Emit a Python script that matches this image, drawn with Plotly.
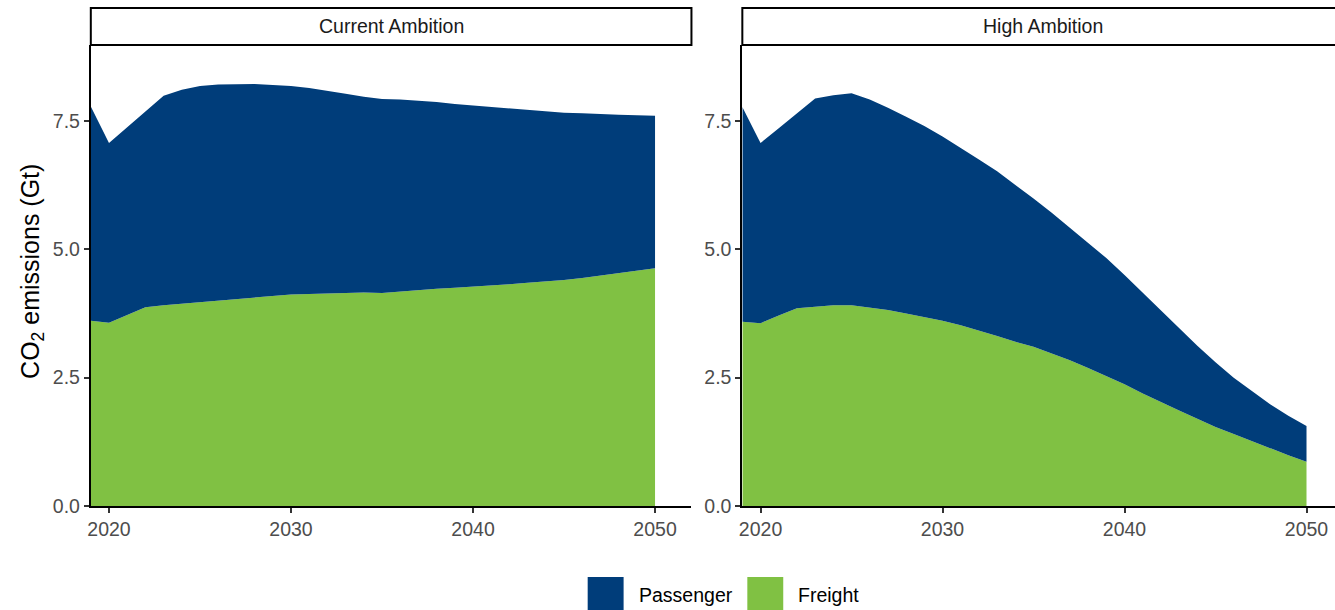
import plotly.graph_objects as go

# Daten (Gt CO2)
years = list(range(2019, 2051))

current_total = [7.78, 7.07, 7.38, 7.68, 7.99, 8.11, 8.18, 8.21, 8.22, 8.22, 8.20, 8.18,
                 8.14, 8.09, 8.03, 7.97, 7.93, 7.92, 7.90, 7.87, 7.83, 7.80, 7.77, 7.74,
                 7.71, 7.68, 7.66, 7.65, 7.63, 7.62, 7.61, 7.60]
current_freight = [3.61, 3.57, 3.72, 3.87, 3.91, 3.94, 3.97, 4.00, 4.04, 4.07, 4.10, 4.12,
                   4.13, 4.14, 4.15, 4.16, 4.15, 4.18, 4.21, 4.23, 4.25, 4.27, 4.30, 4.32,
                   4.35, 4.37, 4.40, 4.44, 4.49, 4.54, 4.59, 4.63]

high_total = [7.77, 7.07, 7.36, 7.65, 7.94, 8.00, 8.04, 7.92, 7.76, 7.58, 7.40, 7.20,
              6.98, 6.75, 6.52, 6.26, 5.99, 5.71, 5.42, 5.13, 4.83, 4.50, 4.15, 3.80,
              3.45, 3.12, 2.80, 2.50, 2.24, 1.98, 1.76, 1.56]
high_freight = [3.59, 3.56, 3.71, 3.85, 3.88, 3.91, 3.91, 3.87, 3.82, 3.75, 3.68, 3.61,
                3.52, 3.42, 3.31, 3.20, 3.10, 2.97, 2.84, 2.69, 2.53, 2.37, 2.19, 2.02,
                1.86, 1.70, 1.54, 1.40, 1.26, 1.12, 0.99, 0.86]

panels = ["Current Ambition", "High Ambition"]
series = ["Passenger", "Freight"]
x_ticks = [2020, 2030, 2040, 2050]
y_ticks = [0, 2.5, 5.0, 7.5]

BLUE = "rgb(0,61,122)"
GREEN = "rgb(128,193,67)"
FONT = "Liberation Sans, Arial, sans-serif"

W, H = 1335, 610
VSCALE = 0.982  # Seite wird beim Foto vertikal leicht gestaucht
px = lambda p: p / W
py = lambda p: 1 - p / (H * VSCALE)

dom_left = [px(88), px(690)]
dom_right = [px(741), 1.0]
y_dom = [py(506), py(45)]

fig = go.Figure()

data = [(current_total, current_freight, "x", "y"), (high_total, high_freight, "x2", "y2")]
for total, freight, xa, ya in data:
    fig.add_trace(go.Scatter(x=years, y=freight, name="Freight", mode="lines",
                             line=dict(width=0, color=GREEN), fill="tozeroy",
                             fillcolor=GREEN, xaxis=xa, yaxis=ya, showlegend=False))
    fig.add_trace(go.Scatter(x=years, y=total, name="Passenger", mode="lines",
                             line=dict(width=0, color=BLUE), fill="tonexty",
                             fillcolor=BLUE, xaxis=xa, yaxis=ya, showlegend=False))

axis_common = dict(showgrid=False, zeroline=False, showline=True, linecolor="black",
                   linewidth=2, ticks="outside", ticklen=5, tickcolor="#333333",
                   tickwidth=1.5, tickfont=dict(family=FONT, size=19.5, color="#4d4d4d"))

fig.update_layout(
    width=W, height=H,
    margin=dict(l=0, r=0, t=0, b=0),
    paper_bgcolor="white", plot_bgcolor="white",
    font=dict(family=FONT),
    xaxis=dict(domain=dom_left, range=[2019, 2052], tickvals=x_ticks, anchor="y", **axis_common),
    yaxis=dict(domain=y_dom, range=[0, 8.98], tickvals=y_ticks, tickformat=".1f", anchor="x",
               **axis_common),
    xaxis2=dict(domain=dom_right, range=[2019, 2019 + 594 / 18.24], tickvals=x_ticks,
                anchor="y2", **axis_common),
    yaxis2=dict(domain=y_dom, range=[0, 8.98], tickvals=y_ticks, tickformat=".1f",
                anchor="x2", **axis_common),
    showlegend=False,
)

# Facetten-Streifen
strips = [(panels[0], dom_left[0], dom_left[1], px(389)), (panels[1], dom_right[0], 1.01, px(1042))]
for name, x0, x1, xc in strips:
    fig.add_shape(type="rect", xref="paper", yref="paper", x0=x0, x1=x1,
                  y0=py(45), y1=py(8), line=dict(color="black", width=2),
                  fillcolor="white")
    fig.add_annotation(x=xc, y=py(26.5), xref="paper", yref="paper", text=name,
                       showarrow=False, xanchor="center", yanchor="middle",
                       font=dict(family=FONT, size=19.5, color="#1a1a1a"))

# Y-Achsentitel
fig.add_annotation(x=px(29), y=py(271), xref="paper", yref="paper",
                   text="CO<sub>2</sub> emissions (Gt)", textangle=-90, showarrow=False,
                   xanchor="center", yanchor="middle",
                   font=dict(family=FONT, size=25, color="black"))

# Legende
legend_items = [(series[0], BLUE, 586), (series[1], GREEN, 746)]
for label, color, x0 in legend_items:
    fig.add_shape(type="rect", xref="paper", yref="paper", x0=px(x0), x1=px(x0 + 36),
                  y0=py(612), y1=py(577), line=dict(width=0), fillcolor=color)
    fig.add_annotation(x=px(x0 + 49), y=py(595), xref="paper", yref="paper", text=label,
                       showarrow=False, xanchor="left", yanchor="middle",
                       font=dict(family=FONT, size=19.5, color="black"))

fig.write_html("out.html", config={"displayModeBar": False},
               post_script="document.body.style.margin='0';document.body.style.overflow='hidden';")
